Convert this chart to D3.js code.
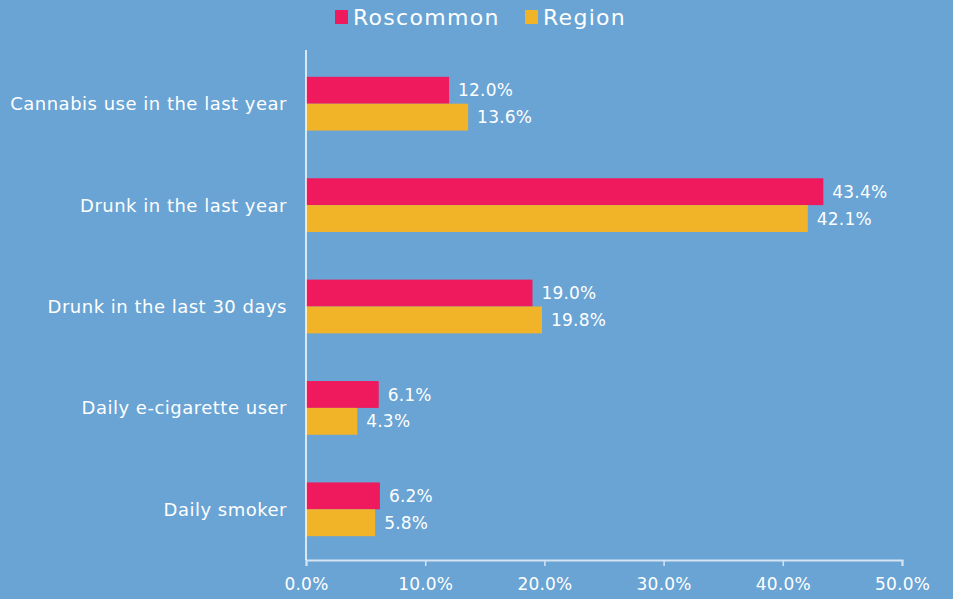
<!DOCTYPE html>
<html><head><meta charset="utf-8">
<script src="https://cdn.jsdelivr.net/npm/d3@7"></script>
<style>body{margin:0;background:#69a4d4;} text{font-family:"DejaVu Sans",sans-serif;}</style>
</head><body>
<svg id="c" width="953" height="599"></svg>
<script>
const categories = ["Cannabis use in the last year","Drunk in the last year","Drunk in the last 30 days","Daily e-cigarette user","Daily smoker"];
const seriesNames = ["Roscommon","Region"];
const roscommon = [12.0,43.4,19.0,6.1,6.2];
const region = [13.6,42.1,19.8,4.3,5.8];
const tickValues = [0,10,20,30,40,50];
const colors = ["#ef1a5d","#f1b428"];

(function(){
const svg = d3.select("#c");
svg.append("rect").attr("width",953).attr("height",599).attr("fill","#69a4d4");
const mLeft=306, mRight=902, mTop=53, mBottom=560;
const x = d3.scaleLinear().domain([0,50]).range([mLeft,mRight]);
const y = d3.scaleBand().domain(categories).range([mTop,mBottom]).paddingInner(0.47).paddingOuter(0.235);
const y1 = d3.scaleBand().domain(seriesNames).range([0,y.bandwidth()]);
const data = [roscommon, region];

categories.forEach((c,i)=>{
  const g = svg.append("g").attr("transform",`translate(0,${y(c)})`);
  seriesNames.forEach((s,j)=>{
    const v = data[j][i];
    g.append("rect").attr("x",x(0)).attr("y",y1(s)).attr("width",x(v)-x(0)).attr("height",y1.bandwidth()).attr("fill",colors[j]);
    g.append("text").attr("x",x(v)+9).attr("y",y1(s)+y1.bandwidth()/2).attr("dy","0.36em")
      .attr("fill","#fff").attr("font-size",17).attr("letter-spacing",0.2).text(v.toFixed(1)+"%");
  });
  svg.append("text").attr("x",287).attr("y",y(c)+y.bandwidth()/2).attr("dy","0.36em").attr("text-anchor","end")
    .attr("fill","#fff").attr("font-size",18).attr("letter-spacing",0.5).text(c);
});

const xAxis = svg.append("g").attr("transform",`translate(0,${mBottom})`)
  .call(d3.axisBottom(x).tickValues(tickValues).tickFormat(d=>d.toFixed(1)+"%").tickSizeOuter(0).tickSize(6));
xAxis.select(".domain").attr("stroke","#d6e4f2").attr("stroke-width",2);
xAxis.selectAll(".tick line").attr("stroke","#d6e4f2").attr("stroke-width",1.5);
xAxis.selectAll(".tick text").attr("fill","#fff").attr("font-size",17).attr("font-family","DejaVu Sans").attr("letter-spacing",0.2).attr("dy","1.25em");
svg.append("line").attr("x1",x(0)).attr("x2",x(0)).attr("y1",mTop-3).attr("y2",mBottom).attr("stroke","#fff").attr("stroke-width",1.5);

const leg = svg.append("g");
const lx=[335,525];
seriesNames.forEach((s,j)=>{
  leg.append("rect").attr("x",lx[j]).attr("y",10).attr("width",13).attr("height",14).attr("fill",colors[j]);
  leg.append("text").attr("x",lx[j]+18).attr("y",17).attr("dy","0.36em").attr("fill","#fff").attr("font-size",22).attr("letter-spacing",1.3).text(s);
});
})();
</script>
</body></html>
